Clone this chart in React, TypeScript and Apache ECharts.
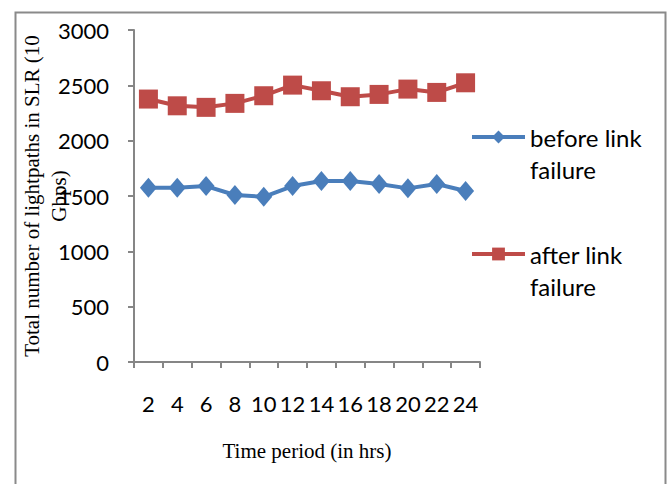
import React, { useEffect, useRef } from "react";
import * as echarts from "echarts";

const hours = ["2", "4", "6", "8", "10", "12", "14", "16", "18", "20", "22", "24"];
const beforeFailure = [1575, 1575, 1590, 1509, 1493, 1590, 1635, 1635, 1608, 1569, 1608, 1545];
const afterFailure = [2376, 2315, 2301, 2337, 2406, 2502, 2451, 2397, 2418, 2466, 2436, 2523];
const seriesNames = ["before link\nfailure", "after link\nfailure"];

const sans = "Lato";
const serif = "Liberation Serif";
const axisGray = "#868686";

export default function App() {
  const ref = useRef<HTMLDivElement>(null);
  useEffect(() => {
    if (!ref.current) return;
    const chart = echarts.init(ref.current, null, { renderer: "svg" });
    chart.setOption({
      animation: false,
      backgroundColor: "#ffffff",
      grid: {
        left: 134,
        top: 30,
        width: 346,
        height: 332,
        containLabel: false,
        outerBoundsMode: "none",
      },
      graphic: [
        {
          type: "rect",
          left: 13,
          top: 10,
          shape: { width: 650, height: 520 },
          style: { fill: "none", stroke: "#8a8a8a", lineWidth: 2 },
          silent: true,
        },
      ],
      legend: {
        orient: "vertical",
        left: 470,
        top: 89,
        padding: 0,
        itemWidth: 53,
        itemHeight: 16,
        itemGap: 21,
        formatter: (name: string) => "\n" + name,
        lineStyle: { width: 4 },
        textStyle: {
          fontFamily: sans,
          fontSize: 24,
          color: "#000",
          lineHeight: 32,
        },
        data: seriesNames,
      },
      xAxis: {
        type: "category",
        data: hours,
        boundaryGap: true,
        axisLine: { show: true, lineStyle: { color: axisGray, width: 2 } },
        axisTick: { show: true, length: 6, lineStyle: { color: axisGray, width: 2 } },
        axisLabel: { fontFamily: sans, fontSize: 22, color: "#000", margin: 30, interval: 0 },
        splitLine: { show: false },
        name: "Time period (in hrs)",
        nameLocation: "middle",
        nameGap: 78,
        nameMoveOverlap: false,
        nameTextStyle: { fontFamily: serif, fontSize: 21, color: "#000" },
      },
      yAxis: {
        type: "value",
        min: 0,
        max: 3000,
        interval: 500,
        axisLine: { show: true, lineStyle: { color: axisGray, width: 2 } },
        axisTick: { show: true, length: 6, lineStyle: { color: axisGray, width: 2 } },
        axisLabel: {
          fontFamily: sans,
          fontSize: 22,
          color: "#000",
          margin: 25,
          formatter: (v: number) => String(v),
        },
        splitLine: { show: false },
        name: "Total number of lightpaths in SLR (10\nGbps)",
        nameLocation: "middle",
        nameRotate: 90,
        nameGap: 62,
        nameMoveOverlap: false,
        nameTextStyle: { fontFamily: serif, fontSize: 21, color: "#000", lineHeight: 27 },
      },
      series: [
        {
          name: seriesNames[0],
          type: "line",
          data: beforeFailure,
          symbol: "diamond",
          symbolSize: [17, 20],
          lineStyle: { color: "#4A7EBB", width: 4 },
          itemStyle: { color: "#4A7EBB" },
        },
        {
          name: seriesNames[1],
          type: "line",
          data: afterFailure,
          symbol: "rect",
          symbolSize: 19,
          lineStyle: { color: "#BE4B48", width: 4 },
          itemStyle: { color: "#BE4B48" },
        },
      ],
    });
    return () => chart.dispose();
  }, []);
  return (
    <div
      ref={ref}
      style={{ position: "fixed", left: 0, top: 0, width: 671, height: 484 }}
    />
  );
}
